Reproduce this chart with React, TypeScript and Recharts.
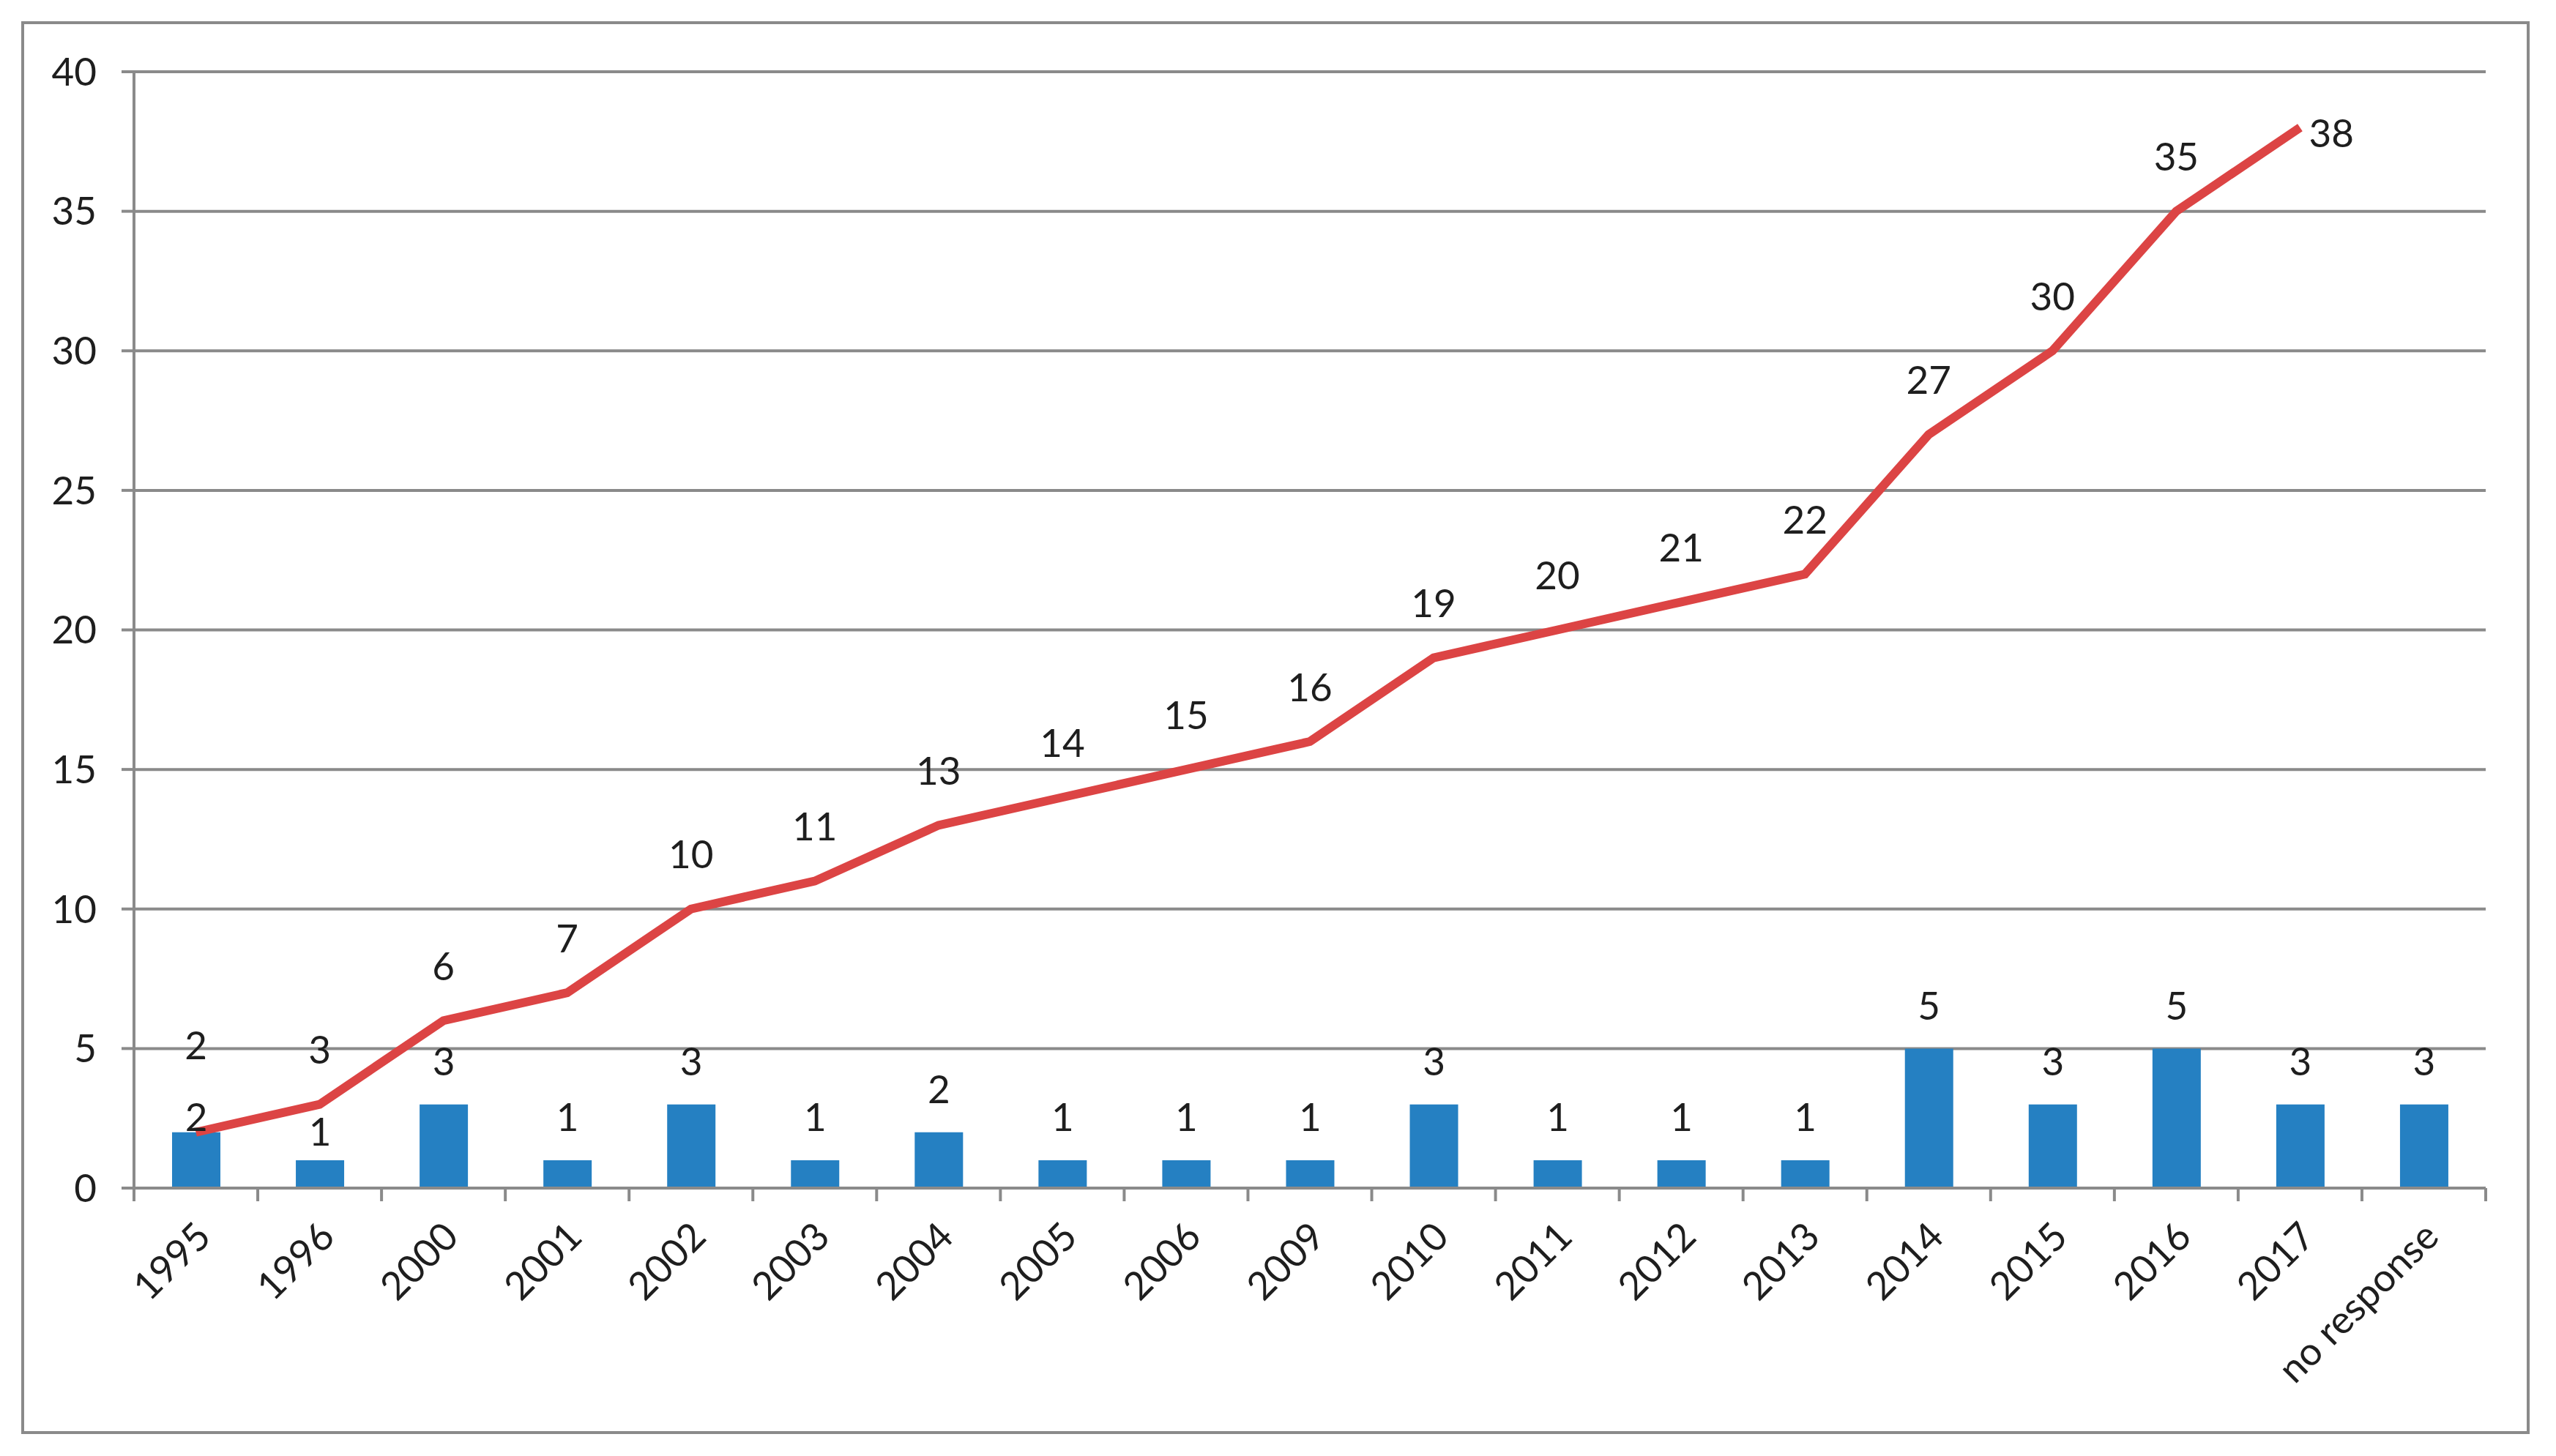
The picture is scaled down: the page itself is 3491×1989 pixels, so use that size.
import { ComposedChart, Bar, Line, XAxis, YAxis, CartesianGrid, LabelList } from "recharts";

const categories = [
  "1995", "1996", "2000", "2001", "2002", "2003", "2004", "2005", "2006", "2009",
  "2010", "2011", "2012", "2013", "2014", "2015", "2016", "2017", "no response",
];
const perYear = [2, 1, 3, 1, 3, 1, 2, 1, 1, 1, 3, 1, 1, 1, 5, 3, 5, 3, 3];
const cumulative = [2, 3, 6, 7, 10, 11, 13, 14, 15, 16, 19, 20, 21, 22, 27, 30, 35, 38, null];
const yTicks = [0, 5, 10, 15, 20, 25, 30, 35, 40];

const W = 3491;
const H = 1989;
const PLOT_LEFT = 183;
const PLOT_RIGHT = 3395;
const PLOT_TOP = 98;
const PLOT_BOTTOM = 1623;
const BAND = (PLOT_RIGHT - PLOT_LEFT) / categories.length;

const GRID = "#8a8a8a";
const TEXT = "#1e1e1e";
const FONT = "Lato, 'Open Sans', sans-serif";
const FS = 53;

const data = categories.map((c, i) => ({ name: c, bar: perYear[i], line: cumulative[i] }));

const XTick = (props: any) => {
  const { x, y, payload, index } = props;
  const last = index === categories.length - 1;
  const ax = x - 6;
  const ay = y + 40;
  return (
    <g>
      <line x1={x - BAND / 2} x2={x - BAND / 2} y1={y} y2={y + 18} stroke={GRID} strokeWidth={4} />
      {last && <line x1={x + BAND / 2} x2={x + BAND / 2} y1={y} y2={y + 18} stroke={GRID} strokeWidth={4} />}
      <text
        x={ax}
        y={ay}
        textAnchor="end"
        dominantBaseline="hanging"
        transform={`rotate(-45, ${ax}, ${ay})`}
        fill={TEXT}
        fontSize={FS}
        fontFamily={FONT}
      >
        {payload.value}
      </text>
    </g>
  );
};

const LineLabel = (props: any) => {
  const { x, y, value, index } = props;
  if (value == null) return null;
  const last = index === cumulative.length - 2;
  if (last) {
    return (
      <text x={x + 12} y={y + 6} textAnchor="start" dominantBaseline="central" fill={TEXT} fontSize={FS} fontFamily={FONT}>
        {value}
      </text>
    );
  }
  const off = index === 0 ? 120 : 76;
  return (
    <text x={x} y={y - off} textAnchor="middle" dominantBaseline="central" fill={TEXT} fontSize={FS} fontFamily={FONT}>
      {value}
    </text>
  );
};

const BarLabel = (props: any) => {
  const { x, y, width, value, index } = props;
  const off = index === 0 ? 22 : index === 1 ? 40 : 60;
  return (
    <text x={x + width / 2} y={y - off} textAnchor="middle" dominantBaseline="central" fill={TEXT} fontSize={FS} fontFamily={FONT}>
      {value}
    </text>
  );
};

const App = () => {
  return (
    <div style={{ position: "absolute", left: 0, top: 0, width: W, height: H, background: "#fff" }}>
      <div
        style={{
          position: "absolute",
          left: 29,
          top: 29,
          width: 3455 - 29,
          height: 1959 - 29,
          border: `4px solid ${GRID}`,
          boxSizing: "border-box",
        }}
      />
      <div style={{ position: "absolute", left: 0, top: 0 }}>
        <ComposedChart
          width={W}
          height={H}
          data={data}
          margin={{ top: PLOT_TOP, right: W - PLOT_RIGHT, bottom: 0, left: 0 }}
          barCategoryGap="30%"
        >
          <CartesianGrid vertical={false} stroke={GRID} strokeWidth={4} />
          <XAxis
            dataKey="name"
            interval={0}
            height={H - PLOT_BOTTOM}
            tickSize={0}
            tickMargin={0}
            tickLine={false}
            axisLine={{ stroke: GRID, strokeWidth: 4 }}
            tick={<XTick />}
          />
          <YAxis
            domain={[0, 40]}
            ticks={yTicks}
            interval={0}
            width={PLOT_LEFT}
            tickSize={17}
            tickMargin={34}
            axisLine={{ stroke: GRID, strokeWidth: 4 }}
            tickLine={{ stroke: GRID, strokeWidth: 4 }}
            tick={{ fill: TEXT, fontSize: FS, fontFamily: FONT }}
          />
          <Bar dataKey="bar" fill="#2580c2" barSize={66} isAnimationActive={false}>
            <LabelList dataKey="bar" content={<BarLabel />} />
          </Bar>
          <Line
            dataKey="line"
            stroke="#dc4444"
            strokeWidth={12}
            dot={false}
            activeDot={false}
            connectNulls={false}
            isAnimationActive={false}
          >
            <LabelList dataKey="line" content={<LineLabel />} />
          </Line>
        </ComposedChart>
      </div>
    </div>
  );
};

export default App;
